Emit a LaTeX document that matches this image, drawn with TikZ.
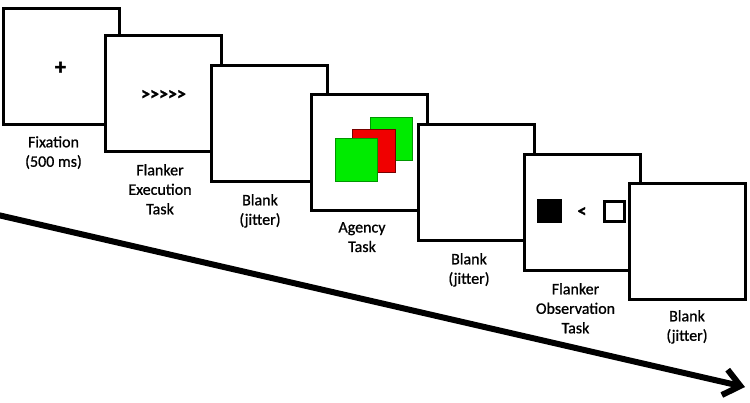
\documentclass[tikz,border=0pt]{standalone}
\usepackage{fontspec}
\setmainfont{Carlito}
\newfontfamily\lblfont{Carlito}[BoldFont=Carlito, BoldFeatures={FakeBold=0.9}]
\newfontfamily\symfont{Carlito}[BoldFeatures={FakeBold=1.6}]
\usetikzlibrary{arrows.meta}
\definecolor{gfill}{RGB}{0,235,0}
\definecolor{gline}{RGB}{0,150,0}
\definecolor{rfill}{RGB}{240,0,0}
\definecolor{rline}{RGB}{120,0,0}
\begin{document}
\begin{tikzpicture}[x=1pt,y=-1pt,
  screen/.style={rectangle, draw, line width=3pt, fill=white, minimum size=116pt, inner sep=0pt},
  lbl/.style={font=\lblfont\bfseries\fontsize{16}{19.5}\selectfont, align=center, anchor=north, inner sep=0pt},
  sym/.style={font=\symfont\bfseries\fontsize{18}{19}\selectfont, inner sep=0pt},
  gsq/.style={rectangle, draw=gline, line width=0.8pt, fill=gfill, minimum width=42pt, minimum height=43pt, inner sep=0pt},
  rsq/.style={rectangle, draw=rline, line width=0.8pt, fill=rfill, minimum width=43pt, minimum height=43pt, inner sep=0pt},
  timeline/.style={line width=6pt, -{Straight Barb[length=16pt,width=26pt,line width=6pt]}}
]
\useasboundingbox (0,0) rectangle (750,402);
% frame 1
\node[screen] (f1) at (61.5,66.5) {};
\node[sym, font=\symfont\bfseries\fontsize{22}{22}\selectfont] (plus) at (60.5,68) {+};
% frame 2
\node[screen] (f2) at (163,93.5) {};
\node[sym] (arr) at (163.5,95) {>{}>{}>{}>{}>};
% frame 3
\node[screen] (f3) at (269.5,123.5) {};
% frame 4
\node[screen] (f4) at (369.5,152.5) {};
\node[gsq] (g1) at (391.5,139) {};
\node[rsq] (r1) at (374,151) {};
\node[gsq] (g2) at (356.5,159.5) {};
% frame 5
\node[screen] (f5) at (476.5,182) {};
% frame 6
\node[screen] (f6) at (582,212) {};
\node[rectangle, fill=black, minimum width=25pt, minimum height=24pt, inner sep=0pt] (bsq) at (549.5,211) {};
\node[sym] (lt) at (582,212) {<};
\node[rectangle, draw, line width=2.7pt, fill=white, minimum width=20pt, minimum height=20pt, inner sep=0pt] (wsq) at (614.5,211.5) {};
% frame 7
\node[screen] (f7) at (687.5,241.5) {};
% labels
\node[lbl] (l1) at (53.5,136) {Fixation\\(500 ms)};
\node[lbl] (l2) at (160,164) {Flanker\\Execution\\Task};
\node[lbl] (l3) at (260,194) {Blank\\(jitter)};
\node[lbl] (l4) at (362,222) {Agency\\Task};
\node[lbl] (l5) at (469,253) {Blank\\(jitter)};
\node[lbl] (l6) at (575.5,283) {Flanker\\Observation\\Task};
\node[lbl] (l7) at (687,310) {Blank\\(jitter)};
% time arrow
\coordinate (ts) at (-2,215);
\coordinate (te) at (745,387);
\draw[timeline] (ts) -- (te);
\end{tikzpicture}
\end{document}
